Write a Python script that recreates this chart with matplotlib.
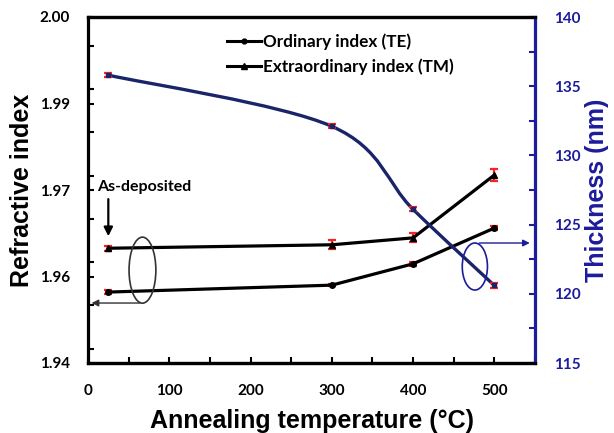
import numpy as np
import matplotlib
matplotlib.use("Agg")
import matplotlib.pyplot as plt
from matplotlib.font_manager import FontProperties
from matplotlib.lines import Line2D
from matplotlib.patches import Ellipse, PathPatch
from matplotlib.path import Path
from matplotlib.ticker import FixedLocator, FixedFormatter, MultipleLocator

# Annealing temperatures (°C)
temps = [25, 300, 400, 500]
# Refractive index, ordinary (TE) and extraordinary (TM)
n_te = [1.9523, 1.9535, 1.9572, 1.9634]
n_te_err = [0.0003, 0.0002, 0.0003, 0.0004]
n_tm = [1.9599, 1.9605, 1.9617, 1.9726]
n_tm_err = [0.0004, 0.0008, 0.0008, 0.0010]
# Film thickness (nm)
thickness = [135.8, 132.1, 126.1, 120.6]
thickness_err = [0.15, 0.15, 0.15, 0.2]

left_ticks = [1.94, 1.955, 1.97, 1.985, 2.00]
left_labels = ["1.94", "1.96", "1.97", "1.99", "2.00"]
right_ticks = [115, 120, 125, 130, 135, 140]
x_ticks = [0, 100, 200, 300, 400, 500]

BLUE = "#1c1c9c"
NAVY = "#1a2468"
RED = "#ff2020"
SANS = ["Lato", "DejaVu Sans"]
ARIAL = ["Liberation Sans", "DejaVu Sans"]

plt.rcParams["font.family"] = SANS

fig = plt.figure(figsize=(6.14, 4.33), dpi=100)
ax = fig.add_axes([88 / 614, 70 / 433, 447 / 614, 346 / 433])
ax2 = ax.twinx()

# Refractive index curves
ax.errorbar(temps, n_te, yerr=n_te_err, color="black", lw=2.3, marker="o",
            ms=4, ecolor=RED, elinewidth=1.6, capsize=3, capthick=1.6,
            zorder=3)
ax.errorbar(temps, n_tm, yerr=n_tm_err, color="black", lw=2.3, marker="^",
            ms=5, ecolor=RED, elinewidth=1.6, capsize=3, capthick=1.6,
            zorder=3)

# Thickness: smooth curve through the points (Catmull-Rom as cubic Bezier)
xs = np.array(temps, dtype=float)
ys = np.array(thickness, dtype=float)
verts = [(xs[0], ys[0])]
codes = [Path.MOVETO]
for i in range(len(xs) - 1):
    p0 = (xs[i - 1], ys[i - 1]) if i > 0 else (xs[i], ys[i])
    p1 = (xs[i], ys[i])
    p2 = (xs[i + 1], ys[i + 1])
    p3 = (xs[i + 2], ys[i + 2]) if i + 2 < len(xs) else (xs[i + 1], ys[i + 1])
    c1 = (p1[0] + (p2[0] - p0[0]) / 6, p1[1] + (p2[1] - p0[1]) / 6)
    c2 = (p2[0] - (p3[0] - p1[0]) / 6, p2[1] - (p3[1] - p1[1]) / 6)
    verts += [c1, c2, p2]
    codes += [Path.CURVE4] * 3
ax2.add_patch(PathPatch(Path(verts, codes), fill=False, edgecolor=NAVY,
                        lw=2.4, zorder=3))
ax2.errorbar(temps, thickness, yerr=thickness_err, fmt="s", color=NAVY,
             ms=3.5, ecolor=RED, elinewidth=1.6, capsize=3, capthick=1.6,
             zorder=4)

# Axes limits and ticks
ax.set_xlim(0, 550)
ax.set_ylim(1.94, 2.00)
ax2.set_ylim(115, 140)
ax.xaxis.set_major_locator(FixedLocator(x_ticks))
ax.xaxis.set_minor_locator(MultipleLocator(50))
ax.yaxis.set_major_locator(FixedLocator(left_ticks))
ax.yaxis.set_major_formatter(FixedFormatter(left_labels))
ax.yaxis.set_minor_locator(MultipleLocator(0.0075))
ax2.yaxis.set_major_locator(FixedLocator(right_ticks))
ax2.yaxis.set_minor_locator(MultipleLocator(2.5))

tick_fp = FontProperties(family=SANS, weight="bold", size=11)
for lab in ax.get_xticklabels() + ax.get_yticklabels():
    lab.set_fontproperties(tick_fp)
for lab in ax2.get_yticklabels():
    lab.set_fontproperties(tick_fp)
    lab.set_color(BLUE)

ax.tick_params(axis="both", which="both", direction="in", length=4, width=1.5,
               top=False, right=False)
ax.tick_params(axis="x", pad=15)
ax.tick_params(axis="y", pad=13)
ax2.tick_params(axis="y", which="both", direction="in", length=4, width=1.5,
                color=BLUE, pad=14)

for sp in ["left", "bottom", "top"]:
    ax.spines[sp].set_linewidth(2.3)
ax.spines["right"].set_visible(False)
ax2.spines["right"].set_color(BLUE)
ax2.spines["right"].set_linewidth(2.3)
ax2.spines["left"].set_visible(False)
ax2.spines["top"].set_linewidth(2.3)
ax2.spines["bottom"].set_linewidth(2.3)

ax.set_xlabel("Annealing temperature (°C)", fontsize=18, fontweight="bold",
              family=ARIAL, labelpad=8)
ax.set_ylabel("Refractive index", fontsize=18, fontweight="bold",
              family=ARIAL, labelpad=4)
ax2.set_ylabel("Thickness (nm)", fontsize=18, fontweight="bold",
               family=ARIAL, color=BLUE, labelpad=3)

# Legend with plain line+marker handles
handles = [
    Line2D([], [], color="black", lw=2.2, marker="o", ms=3.5),
    Line2D([], [], color="black", lw=2.2, marker="^", ms=4.5),
]
ax.legend(handles, ["Ordinary index (TE)", "Extraordinary index (TM)"],
          loc="upper left", bbox_to_anchor=(0.31, 0.952), frameon=False,
          borderpad=0, borderaxespad=0, handlelength=2.0, handletextpad=0.15,
          labelspacing=0.5,
          prop=FontProperties(family=SANS, weight="bold", size=12.3))

# Annotations
ax.annotate("", xy=(25, n_tm[0] + 0.0016), xytext=(25, n_tm[0] + 0.0090),
            arrowprops=dict(arrowstyle="-|>", color="black", lw=1.6,
                            mutation_scale=13))
ax.text(11, 1.9705, "As-deposited", fontsize=11.5, fontweight="bold",
        family=SANS, ha="left", va="center")

ax.add_patch(Ellipse((67, 1.9561), width=33, height=0.01145, fill=False,
                     edgecolor="#333333", lw=1.2, zorder=5))
ax.annotate("", xy=(1, 1.9504), xytext=(67, 1.9504),
            arrowprops=dict(arrowstyle="-|>", color="#333333", lw=1.0,
                            mutation_scale=10))

ax2.add_patch(Ellipse((476, 121.97), width=31, height=3.4, fill=False,
                      edgecolor=BLUE, lw=1.2, zorder=5))
ax2.annotate("", xy=(547, 123.67), xytext=(478, 123.67),
             arrowprops=dict(arrowstyle="-|>", color=BLUE, lw=1.0,
                             mutation_scale=10))

fig.savefig("out.png", dpi=100)
